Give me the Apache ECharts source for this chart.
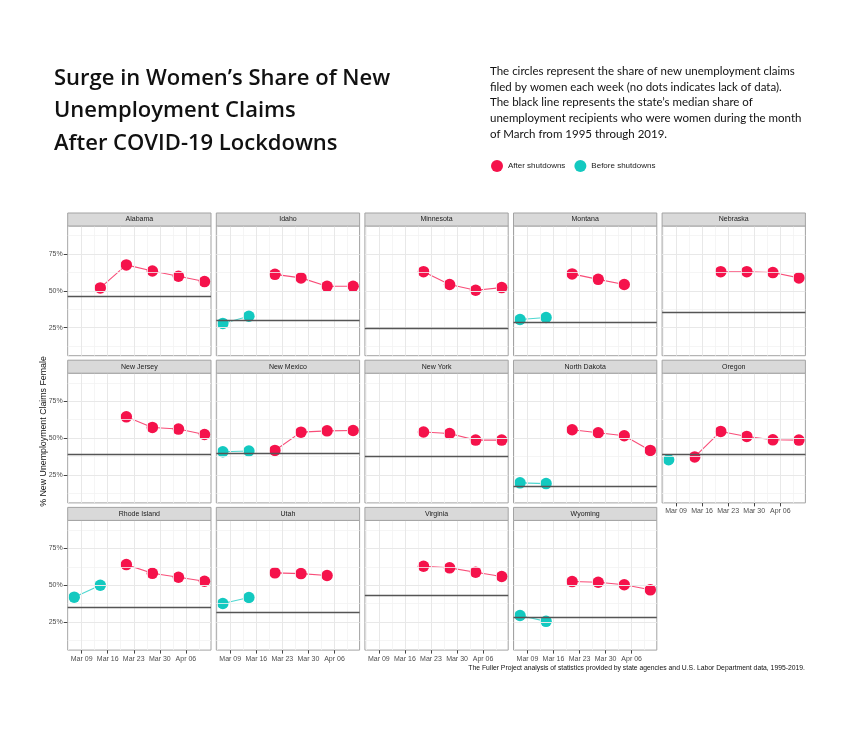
<!DOCTYPE html>
<html>
<head>
<meta charset="utf-8">
<script src="https://cdn.jsdelivr.net/npm/echarts@6/dist/echarts.min.js"></script>
<style>
html,body{margin:0;padding:0;background:#fff;}
#chart{width:845px;height:751px;}
</style>
</head>
<body>
<div id="chart"></div>
<script>
// ---------- DATA ----------
const states = ['Alabama','Idaho','Minnesota','Montana','Nebraska','New Jersey','New Mexico','New York','North Dakota','Oregon','Rhode Island','Utah','Virginia','Wyoming'];
const weeks = ['2020-03-07','2020-03-14','2020-03-21','2020-03-28','2020-04-04','2020-04-11'];
const alabama     = [null, 52.0, 67.6, 63.5, 59.9, 56.3];
const idaho       = [27.9, 32.8, 61.2, 58.8, 53.1, 53.1];
const minnesota   = [null, null, 63.0, 54.3, 50.4, 52.2];
const montana     = [30.6, 31.9, 61.5, 57.8, 54.3, null];
const nebraska    = [null, null, 63.0, 63.0, 62.4, 58.8];
const newJersey   = [null, null, 64.4, 57.2, 56.1, 52.4];
const newMexico   = [40.7, 41.2, 41.6, 54.0, 54.9, 55.1];
const newYork     = [null, null, 54.1, 53.1, 48.6, 48.6];
const northDakota = [19.6, 19.1, 55.6, 53.6, 51.6, 41.6];
const oregon      = [35.3, 37.2, 54.5, 51.1, 48.8, 48.6];
const rhodeIsland = [41.9, 50.0, 64.0, 58.1, 55.4, 52.7];
const utah        = [37.6, 41.7, 58.4, 57.9, 56.6, null];
const virginia    = [null, null, 62.9, 61.8, 58.8, 55.9];
const wyoming     = [29.5, 25.5, 52.5, 52.0, 50.3, 46.9];
const medians     = [46.6, 29.9, 24.3, 28.4, 35.8, 39.2, 39.6, 37.6, 17.3, 38.7, 35.1, 32.0, 43.5, 28.4];
// index of first week counted as "after shutdowns" for each state
const firstAfterWeek = [1, 2, 2, 2, 2, 2, 2, 2, 2, 1, 2, 2, 2, 2];
const xTickDates = ['2020-03-09','2020-03-16','2020-03-23','2020-03-30','2020-04-06'];
const yTickValues = [25, 50, 75];
const yMinorValues = [12.5, 37.5, 62.5, 87.5];
const yRange = [6, 94];

const stateValues = [alabama, idaho, minnesota, montana, nebraska, newJersey, newMexico, newYork, northDakota, oregon, rhodeIsland, utah, virginia, wyoming];

// ---------- HELPERS ----------
const BASE = Date.UTC(2020, 2, 1);
const DAY = 86400000;
function toDay(s){ const p = s.split('-'); return (Date.UTC(+p[0], +p[1]-1, +p[2]) - BASE) / DAY; }
const MONTHS = ['Jan','Feb','Mar','Apr','May','Jun','Jul','Aug','Sep','Oct','Nov','Dec'];
function fmtDay(d){ const dt = new Date(BASE + Math.round(d) * DAY); return MONTHS[dt.getUTCMonth()] + ' ' + String(dt.getUTCDate()).padStart(2,'0'); }

const weekDays = weeks.map(toDay);
const span = weekDays[weekDays.length-1] - weekDays[0];
const xMin = weekDays[0] - span * 0.05;
const xMax = weekDays[weekDays.length-1] + span * 0.05;
const xMajor = xTickDates.map(toDay);
const xMinor = [xMajor[0] - 3.5].concat(xMajor.map(d => d + 3.5));

// ---------- LAYOUT ----------
const COLS = 5;
const PANEL_LEFT = 67.7, PANEL_PITCH_X = 148.6, PANEL_W = 143.3;
const PANEL_TOP = 226, PANEL_PITCH_Y = 147.2, PANEL_H = 129.7, STRIP_H = 13;
const RED = '#F5124B', TEAL = '#13C9C0';
const AXIS_FONT = 'Liberation Sans, Arial, sans-serif';

const grids = [], xAxes = [], yAxes = [], series = [], graphics = [];

states.forEach((name, i) => {
  const col = i % COLS, row = Math.floor(i / COLS);
  const left = PANEL_LEFT + col * PANEL_PITCH_X;
  const top = PANEL_TOP + row * PANEL_PITCH_Y;
  const isBottom = (i + COLS) >= states.length;
  const isLeft = col === 0;
  grids.push({left: left, top: top, width: PANEL_W, height: PANEL_H, show: true,
    backgroundColor: '#fff', borderColor: '#a3a3a3', borderWidth: 1});
  xAxes.push({type: 'value', gridIndex: i, min: xMin, max: xMax,
    axisLine: {show: false}, splitLine: {show: false},
    axisTick: {show: isBottom, customValues: xMajor, length: 3.5, lineStyle: {color: '#444', width: 1}},
    axisLabel: {show: isBottom, customValues: xMajor, formatter: v => fmtDay(v), color: '#4d4d4d', fontSize: 7, fontFamily: AXIS_FONT, margin: 5}
  });
  yAxes.push({type: 'value', gridIndex: i, min: yRange[0], max: yRange[1],
    axisLine: {show: false}, splitLine: {show: false},
    axisTick: {show: isLeft, customValues: yTickValues, length: 4, lineStyle: {color: '#444', width: 1}},
    axisLabel: {show: isLeft, customValues: yTickValues, formatter: v => v + '%', color: '#4d4d4d', fontSize: 7, fontFamily: AXIS_FONT, margin: 5}
  });
  const ml = [];
  yMinorValues.forEach(v => ml.push({yAxis: v, lineStyle: {color: '#f3f3f3', width: 0.8, type: 'solid'}}));
  xMinor.forEach(v => ml.push({xAxis: v, lineStyle: {color: '#f3f3f3', width: 0.8, type: 'solid'}}));
  yTickValues.forEach(v => ml.push({yAxis: v, lineStyle: {color: '#e8e8e8', width: 1, type: 'solid'}}));
  xMajor.forEach(v => ml.push({xAxis: v, lineStyle: {color: '#e8e8e8', width: 1, type: 'solid'}}));
  ml.push({yAxis: medians[i], lineStyle: {color: '#555', width: 1.3, type: 'solid'}});
  series.push({type: 'line', xAxisIndex: i, yAxisIndex: i, data: [], silent: true, z: 1,
    markLine: {silent: true, symbol: ['none','none'], label: {show: false}, animation: false, emphasis: {disabled: true}, data: ml}});
  const vals = stateValues[i];
  const before = [], after = [];
  vals.forEach((v, k) => { if (v === null) return; (k < firstAfterWeek[i] ? before : after).push([weekDays[k], v]); });
  [['Before shutdowns', before, TEAL], ['After shutdowns', after, RED]].forEach(([sn, d, c]) => {
    series.push({name: sn, type: 'line', xAxisIndex: i, yAxisIndex: i, data: d, z: 3,
      symbol: 'circle', symbolSize: 11.5, showSymbol: true,
      itemStyle: {color: c, borderWidth: 0},
      lineStyle: {color: c, width: 1.1, opacity: 0.75},
      emphasis: {disabled: true}, silent: true});
  });
  // strip
  graphics.push({type: 'rect', shape: {x: left, y: top - STRIP_H, width: PANEL_W, height: STRIP_H},
    style: {fill: '#d9d9d9', stroke: '#a3a3a3', lineWidth: 1}, z: 10});
  graphics.push({type: 'text', x: left + PANEL_W / 2, y: top - STRIP_H / 2,
    style: {text: name, fill: '#1a1a1a', font: '7px ' + AXIS_FONT, textAlign: 'center', textVerticalAlign: 'middle'}, z: 11});
});

// titles and texts
graphics.push({type: 'text', x: 54, y: 62,
  style: {text: 'Surge in Women\u2019s Share of New\nUnemployment Claims\nAfter COVID-19 Lockdowns',
    fill: '#111', font: '600 22px "Open Sans", sans-serif', lineHeight: 32.8, textAlign: 'left', textVerticalAlign: 'top'}});
graphics.push({type: 'text', x: 490, y: 63,
  style: {text: 'The circles represent the share of new unemployment claims\nfiled by women each week (no dots indicates lack of data).\nThe black line represents the state\u2019s median share of\nunemployment recipients who were women during the month\nof March from 1995 through 2019.',
    fill: '#111', font: '11.5px Lato, sans-serif', lineHeight: 15.9, textAlign: 'left', textVerticalAlign: 'top'}});
graphics.push({type: 'text', x: 43.5, y: 431.5, rotation: Math.PI / 2,
  style: {text: '% New Unemployment Claims Female', fill: '#111', font: '8.8px ' + AXIS_FONT, textAlign: 'center', textVerticalAlign: 'middle'}});
graphics.push({type: 'text', x: 805, y: 668.3,
  style: {text: 'The Fuller Project analysis of statistics provided by state agencies and U.S. Labor Department data, 1995-2019.',
    fill: '#111', font: '6.8px ' + AXIS_FONT, textAlign: 'right', textVerticalAlign: 'middle'}});

const chart = echarts.init(document.getElementById('chart'), null, {renderer: 'canvas'});
chart.setOption({
  animation: false,
  backgroundColor: '#fff',
  legend: {data: ['After shutdowns', 'Before shutdowns'], left: 491, top: 160, padding: 0, icon: 'circle',
    itemWidth: 12, itemHeight: 12, itemGap: 9, selectedMode: false,
    textStyle: {fontSize: 8, color: '#1a1a1a', fontFamily: AXIS_FONT}},
  grid: grids, xAxis: xAxes, yAxis: yAxes, series: series, graphic: graphics
});
</script>
</body>
</html>
